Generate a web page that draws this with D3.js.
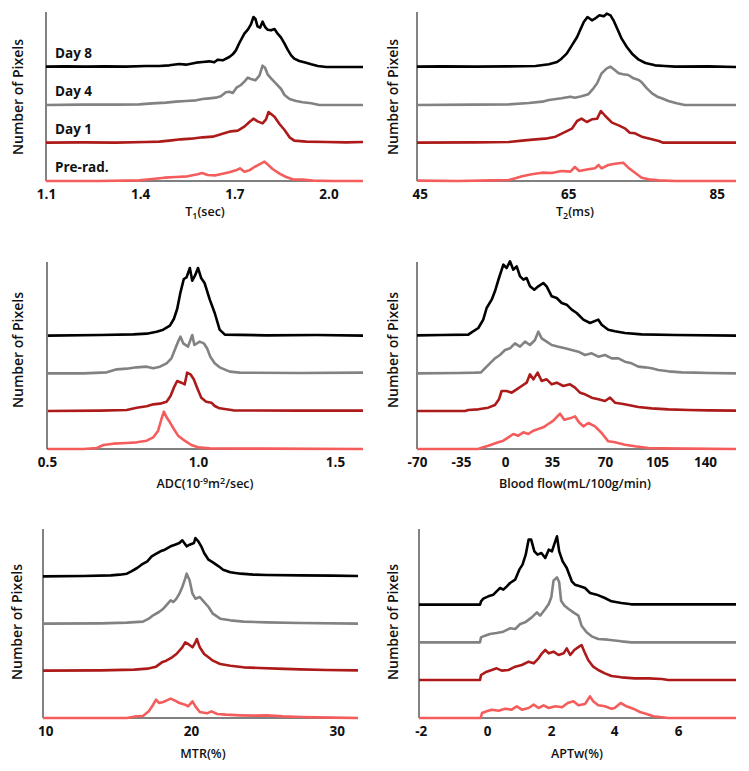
<!DOCTYPE html>
<html>
<head>
<meta charset="utf-8">
<script src="https://cdn.jsdelivr.net/npm/d3@7"></script>
<style>
  body { margin: 0; background: #fff; }
  text { font-family: "Open Sans", sans-serif; fill: #111; }
</style>
</head>
<body>
<svg id="chart" width="749" height="771"></svg>
<script>
// series (top to bottom in every panel)
var seriesNames = ["Day 8", "Day 4", "Day 1", "Pre-rad."];
var seriesColors = ["#000000", "#828282", "#ad1a1a", "#f55c5c"];

// ---- T1 (sec): [value, count]
var t1Day8 = [[1.100,1],[1.163,2],[1.227,1],[1.290,2],[1.354,1],[1.418,3],[1.461,3],[1.493,5],[1.524,9],[1.546,7],[1.578,13],[1.599,15],[1.620,17],[1.636,14],[1.647,22],[1.663,20],[1.684,30],[1.695,38],[1.705,50],[1.716,72],[1.732,100],[1.743,112],[1.753,128],[1.761,150],[1.767,145],[1.774,122],[1.782,118],[1.790,136],[1.798,120],[1.806,112],[1.817,110],[1.828,114],[1.838,100],[1.849,88],[1.860,70],[1.870,52],[1.881,35],[1.891,25],[1.907,18],[1.923,14],[1.945,8],[1.966,3],[1.993,0],[2.110,0]];
var t1Day4 = [[1.100,0],[1.216,1],[1.322,1],[1.397,2],[1.439,5],[1.482,7],[1.514,10],[1.546,12],[1.578,14],[1.599,18],[1.620,20],[1.641,22],[1.657,26],[1.673,38],[1.684,40],[1.695,36],[1.707,52],[1.721,60],[1.732,70],[1.743,82],[1.753,78],[1.767,74],[1.780,88],[1.790,118],[1.798,112],[1.806,92],[1.817,80],[1.833,64],[1.849,48],[1.860,30],[1.876,18],[1.897,12],[1.918,8],[1.945,5],[1.971,0],[2.110,0]];
var t1Day1 = [[1.100,0],[1.216,1],[1.322,0],[1.418,2],[1.461,3],[1.493,6],[1.530,10],[1.562,12],[1.599,16],[1.631,18],[1.652,24],[1.673,30],[1.689,34],[1.711,36],[1.732,48],[1.748,62],[1.761,72],[1.774,64],[1.790,58],[1.801,70],[1.809,92],[1.817,86],[1.828,78],[1.844,56],[1.860,38],[1.876,16],[1.891,6],[1.929,3],[1.993,2],[2.056,1],[2.110,2]];
var t1Pre = [[1.100,0],[1.269,0],[1.397,2],[1.439,6],[1.477,10],[1.514,12],[1.551,14],[1.583,20],[1.597,24],[1.615,18],[1.641,17],[1.663,22],[1.684,26],[1.705,32],[1.718,38],[1.732,28],[1.748,32],[1.764,42],[1.780,50],[1.796,58],[1.806,50],[1.822,36],[1.844,22],[1.865,12],[1.886,5],[1.918,4],[1.950,1],[2.014,0],[2.110,0]];

// ---- T2 (ms)
var t2Day8 = [[44.64,1],[48.0,2],[52.5,1],[57.0,2],[60.6,3],[62.4,8],[63.5,15],[64.1,25],[64.8,40],[65.5,65],[66.2,90],[66.6,110],[67.1,135],[67.6,150],[68.2,140],[68.6,145],[69.2,155],[69.8,152],[70.2,160],[70.7,155],[71.1,140],[71.7,110],[72.2,85],[72.9,60],[73.6,40],[74.5,22],[75.4,12],[76.7,5],[78.0,3],[79.4,1],[83.9,2],[87.6,0]];
var t2Day4 = [[44.64,0],[52.5,1],[57.0,2],[59.7,6],[61.5,10],[62.4,15],[64.1,20],[65.3,25],[65.9,22],[66.8,26],[67.7,32],[68.4,50],[68.9,65],[69.5,95],[70.2,110],[70.7,115],[71.1,108],[71.8,95],[72.4,92],[73.1,90],[73.8,80],[74.5,75],[74.9,68],[75.6,50],[76.3,35],[77.0,25],[77.6,20],[78.5,12],[79.6,5],[80.7,0],[87.6,0]];
var t2Day1 = [[44.64,0],[52.5,1],[57.0,2],[58.8,6],[60.6,10],[61.9,12],[63.3,18],[64.4,30],[65.5,42],[66.2,65],[66.8,72],[67.5,62],[68.2,70],[68.9,72],[69.4,95],[70.0,80],[70.9,60],[71.8,52],[72.7,42],[73.3,30],[74.0,28],[74.9,18],[76.0,12],[77.2,5],[77.8,0],[87.6,0]];
var t2Pre = [[44.64,1],[50.2,0],[54.7,2],[57.0,3],[57.9,8],[58.8,14],[60.1,20],[61.5,25],[62.8,24],[64.1,30],[65.3,28],[65.9,42],[66.5,30],[67.7,35],[68.6,38],[69.1,48],[69.5,38],[70.4,48],[71.3,52],[72.4,55],[73.1,40],[74.0,25],[74.9,10],[75.8,5],[77.2,2],[79.4,0],[87.6,0]];

// ---- ADC (10^-9 m2/sec)
var adcDay8 = [[0.503,0],[0.676,2],[0.786,4],[0.830,6],[0.863,12],[0.885,18],[0.907,30],[0.920,50],[0.931,80],[0.942,130],[0.953,170],[0.962,175],[0.973,203],[0.981,165],[0.990,180],[1.000,203],[1.012,172],[1.024,158],[1.043,108],[1.061,68],[1.079,18],[1.098,3],[1.250,1],[1.433,2],[1.601,0]];
var adcDay4 = [[0.503,0],[0.621,0],[0.698,3],[0.731,12],[0.764,14],[0.797,18],[0.830,20],[0.852,15],[0.874,20],[0.896,30],[0.912,45],[0.923,70],[0.934,95],[0.942,110],[0.951,90],[0.967,80],[0.981,115],[0.988,85],[1.006,95],[1.021,90],[1.033,75],[1.045,50],[1.061,30],[1.079,18],[1.116,5],[1.152,2],[1.372,1],[1.601,2]];
var adcDay1 = [[0.503,0],[0.676,1],[0.764,3],[0.797,10],[0.830,14],[0.852,20],[0.874,22],[0.896,28],[0.909,45],[0.920,70],[0.931,90],[0.945,85],[0.956,80],[0.964,115],[0.975,110],[0.986,95],[0.997,70],[1.012,40],[1.030,28],[1.049,25],[1.061,15],[1.079,8],[1.128,2],[1.372,1],[1.601,1]];
var adcPre = [[0.503,0],[0.621,0],[0.665,3],[0.687,12],[0.720,16],[0.764,18],[0.797,20],[0.830,25],[0.852,35],[0.868,55],[0.879,90],[0.887,112],[0.896,95],[0.907,80],[0.920,60],[0.934,40],[0.956,25],[0.978,12],[1.000,5],[1.043,2],[1.250,1],[1.601,0]];

// ---- Blood flow (mL/100g/min)
var bfDay8 = [[-70,1],[-50.4,2],[-29.2,3],[-26.6,10],[-21.2,23],[-17.3,48],[-14.6,83],[-10.6,108],[-8.0,133],[-4.8,173],[-1.3,213],[1.2,203],[3.7,223],[6.2,198],[8.7,208],[11.2,178],[13.7,168],[16.1,173],[18.6,148],[21.8,138],[24.8,148],[28.5,158],[31.0,148],[34.8,118],[38.1,113],[41.4,98],[44.7,93],[48.0,78],[51.3,68],[55.7,48],[60.1,38],[65.6,48],[67.8,33],[72.2,18],[76.7,13],[83.4,8],[94.6,4],[118.1,2],[162.6,0]];
var bfDay4 = [[-70,0],[-37.1,1],[-23.9,2],[-19.1,3],[-16.0,15],[-12.0,30],[-8.0,45],[-4.0,55],[0,70],[3.7,75],[7.4,90],[11.2,80],[14.9,95],[18.6,85],[22.3,100],[24.8,125],[27.3,105],[31.0,95],[34.8,85],[39.2,80],[43.6,75],[48.0,70],[52.4,65],[56.8,55],[61.2,60],[65.6,50],[70.0,55],[74.5,45],[79.0,45],[83.4,35],[87.9,30],[92.4,20],[96.9,18],[101.4,15],[106.0,10],[113.3,6],[123.0,3],[132.7,2],[142.4,1],[162.6,0]];
var bfDay1 = [[-70,0],[-31.8,0],[-29.2,3],[-21.2,5],[-13.3,10],[-8.0,18],[-4.8,35],[-2.7,60],[1.2,60],[5.0,55],[8.7,65],[12.4,75],[16.1,85],[18.6,110],[21.1,95],[24.3,115],[27.3,90],[31.0,95],[34.8,80],[38.1,85],[42.5,75],[46.9,80],[50.2,70],[53.5,55],[56.8,50],[61.2,40],[65.6,35],[70.0,30],[73.4,40],[76.7,25],[81.2,22],[85.7,18],[92.4,12],[101.4,8],[113.3,5],[127.9,3],[142.4,2],[162.6,1]];
var bfPre = [[-70,0],[-21.2,0],[-18.6,4],[-13.3,10],[-9.3,15],[-5.3,20],[-1.3,25],[2.5,35],[6.2,45],[9.9,40],[13.7,50],[17.4,45],[21.1,55],[24.8,60],[28.5,65],[32.2,75],[35.9,85],[40.3,106],[43.1,88],[46.9,92],[50.2,98],[52.8,80],[55.7,68],[59.0,78],[63.4,68],[67.8,48],[72.2,23],[76.7,20],[83.4,13],[90.2,8],[99.1,3],[108.4,2],[162.6,0]];

// ---- MTR (%)
var mtrDay8 = [[9.84,0],[12.6,1],[14.5,3],[15.1,5],[15.6,8],[15.9,15],[16.3,25],[16.6,35],[17.0,45],[17.3,60],[17.5,65],[17.9,75],[18.2,80],[18.6,90],[18.9,95],[19.2,100],[19.4,108],[19.7,90],[19.9,95],[20.2,100],[20.3,115],[20.5,105],[20.7,90],[20.9,70],[21.2,50],[21.5,42],[21.9,30],[22.2,20],[22.7,12],[23.4,8],[24.3,5],[25.2,4],[27.5,3],[29.7,2],[31.46,1]];
var mtrDay4 = [[9.84,0],[13.8,1],[15.6,3],[16.7,6],[17.1,15],[17.4,25],[17.8,35],[18.1,45],[18.3,55],[18.6,70],[18.8,65],[19.0,75],[19.2,90],[19.4,110],[19.6,135],[19.7,150],[19.9,130],[20.1,90],[20.3,75],[20.6,80],[20.8,70],[21.2,50],[21.5,30],[22.0,15],[22.7,10],[23.6,6],[25.2,4],[27.5,2],[31.46,0]];
var mtrDay1 = [[9.84,0],[13.8,1],[16.1,3],[17.0,6],[17.6,12],[18.0,25],[18.3,30],[18.7,40],[19.0,50],[19.4,70],[19.6,85],[19.8,80],[20.1,70],[20.3,85],[20.4,95],[20.6,70],[20.9,50],[21.2,40],[21.5,30],[22.0,20],[22.7,15],[23.6,10],[24.7,8],[25.9,6],[27.5,4],[29.3,2],[31.46,1]];
var mtrPre = [[9.84,0],[15.6,0],[16.1,4],[16.7,6],[17.1,20],[17.4,40],[17.6,55],[17.8,45],[18.1,48],[18.3,52],[18.6,58],[18.9,52],[19.2,45],[19.6,40],[19.8,35],[20.1,50],[20.3,35],[20.6,18],[21.1,14],[21.4,20],[21.8,12],[22.4,10],[23.4,8],[24.3,7],[25.2,8],[26.3,5],[27.5,3],[29.7,1],[31.46,0]];

// ---- APTw (%)
var aptDay8 = [[-2.05,0],[-0.21,0],[-0.18,10],[-0.11,18],[0.04,25],[0.20,30],[0.30,40],[0.41,50],[0.51,45],[0.62,55],[0.72,65],[0.88,75],[1.01,105],[1.11,120],[1.21,150],[1.30,195],[1.38,195],[1.48,160],[1.58,150],[1.70,155],[1.82,140],[1.93,165],[2.03,160],[2.10,180],[2.19,205],[2.26,160],[2.37,130],[2.50,110],[2.66,70],[2.76,60],[2.92,55],[3.08,50],[3.24,35],[3.45,30],[3.71,20],[3.92,10],[4.23,5],[4.54,1],[5.38,1],[7.79,1]];
var aptDay4 = [[-2.05,0],[-0.21,0],[-0.18,15],[-0.06,20],[0.09,25],[0.30,28],[0.51,32],[0.72,42],[0.88,40],[1.04,55],[1.19,60],[1.40,75],[1.56,90],[1.66,80],[1.82,100],[1.93,115],[2.01,135],[2.08,185],[2.19,195],[2.26,180],[2.32,125],[2.43,110],[2.56,100],[2.71,90],[2.87,80],[2.97,50],[3.13,30],[3.29,18],[3.50,10],[3.81,8],[4.23,3],[4.54,0],[7.79,0]];
var aptDay1 = [[-2.05,0],[-0.21,0],[-0.18,15],[-0.01,25],[0.15,30],[0.30,35],[0.46,28],[0.67,30],[0.88,40],[1.09,45],[1.30,55],[1.46,50],[1.61,65],[1.72,80],[1.82,90],[1.93,80],[2.08,85],[2.24,75],[2.40,80],[2.50,95],[2.61,75],[2.74,90],[2.89,100],[2.97,105],[3.06,85],[3.18,60],[3.34,40],[3.50,30],[3.71,20],[3.92,12],[4.23,8],[4.65,5],[5.07,5],[5.49,3],[5.70,0],[7.79,0]];
var aptPre = [[-2.05,0],[-0.19,0],[-0.15,15],[-0.01,20],[0.15,25],[0.36,22],[0.57,28],[0.77,25],[0.93,35],[1.09,25],[1.30,30],[1.46,40],[1.61,30],[1.77,38],[1.93,30],[2.14,35],[2.35,32],[2.53,45],[2.71,50],[2.87,38],[3.08,42],[3.24,65],[3.34,50],[3.50,38],[3.71,35],[3.92,28],[4.02,30],[4.21,45],[4.39,35],[4.60,28],[4.81,18],[5.02,12],[5.23,5],[5.49,2],[5.70,0],[7.79,0]];

// tick labels per panel
var t1Ticks = [1.1, 1.4, 1.7, 2.0];
var t2Ticks = [45, 65, 85];
var adcTicks = [0.5, 1.0, 1.5];
var bfTicks = [-70, -35, 0, 35, 70, 105, 140];
var mtrTicks = [10, 20, 30];
var aptTicks = [-2, 0, 2, 4, 6];

// vertical stacking offsets (Day 8, Day 4, Day 1, Pre-rad.)
var offsetsA = [342, 228, 115, 0];
var offsetsB = [340, 227, 114, 0];
var offsetsC = [425, 283, 142, 0];

// plain hyphen for negatives, like the source figure
var fmt1 = function (d) { return d.toFixed(1); };
var fmt0 = function (d) { return String(d); };

var svg = d3.select("#chart");

var panels = [
  { series: [t1Day8, t1Day4, t1Day1, t1Pre], offsets: offsetsA, ticks: t1Ticks, fmt: fmt1,
    xd: [1.1, 2.11], xr: [46, 363], top: 12, bottom: 181, yMax: 507, pad: 8,
    title: [["T", 0], ["1", -1], ["(sec)", 0]], titleY: 216, tx: 205, yTitle: [17, 97], labels: true },
  { series: [t2Day8, t2Day4, t2Day1, t2Pre], offsets: offsetsA, ticks: t2Ticks, fmt: fmt0,
    xd: [44.64, 87.6], xr: [417, 736], top: 12, bottom: 181, yMax: 507, pad: 8,
    title: [["T", 0], ["2", -1], ["(ms)", 0]], titleY: 216, tx: 575, yTitle: [392, 97] },
  { series: [adcDay8, adcDay4, adcDay1, adcPre], offsets: offsetsB, ticks: adcTicks, fmt: fmt1,
    xd: [0.5, 1.0, 1.5, 1.601], xr: [47, 198, 335, 363], top: 262, bottom: 449, yMax: 561, pad: 8,
    title: [["ADC(10", 0], ["-9", 1], ["m", 0], ["2", 1], ["/sec)", 0]], titleY: 488, tx: 205, yTitle: [17, 350] },
  { series: [bfDay8, bfDay4, bfDay1, bfPre], offsets: offsetsB, ticks: bfTicks, fmt: fmt0,
    xd: [-70, -35, 0, 35, 70, 105, 140, 162.6], xr: [417, 461, 505, 552, 605, 657, 705, 736], top: 262, bottom: 449, yMax: 561, pad: 8,
    title: [["Blood flow(mL/100g/min)", 0]], titleY: 488, tx: 575, yTitle: [392, 350] },
  { series: [mtrDay8, mtrDay4, mtrDay1, mtrPre], offsets: offsetsC, ticks: mtrTicks, fmt: fmt0,
    xd: [9.84, 31.46], xr: [43, 358], top: 529, bottom: 718, yMax: 567, pad: 8,
    title: [["MTR(%)", 0]], titleY: 758, tx: 203, yTitle: [16, 622] },
  { series: [aptDay8, aptDay4, aptDay1, aptPre], offsets: offsetsB, ticks: aptTicks, fmt: fmt0,
    xd: [-2.05, 0, 2, 4, 6, 7.79], xr: [419, 487, 551, 614, 678, 736], top: 529, bottom: 718, yMax: 567, pad: 8,
    title: [["APTw(%)", 0]], titleY: 758, tx: 577, yTitle: [392, 622] }
];

panels.forEach(drawPanel);

function drawPanel(p) {
  var g = svg.append("g");
  var x = d3.scaleLinear().domain(p.xd).range(p.xr);
  var y = d3.scaleLinear().domain([0, p.yMax]).range([p.bottom, p.top]);

  // x axis: labels only, then a plain line for the domain
  var xAxis = d3.axisBottom(x)
      .tickValues(p.ticks)
      .tickFormat(p.fmt)
      .tickSize(0)
      .tickPadding(p.pad);
  var gx = g.append("g")
      .attr("transform", "translate(0," + p.bottom + ")")
      .call(xAxis);
  gx.select(".domain").remove();
  gx.selectAll("text")
      .style("font-family", "'Open Sans', sans-serif")
      .style("font-size", "13.5px")
      .style("font-weight", "700")
      .attr("fill", "#111");

  g.append("line")
      .attr("x1", p.xr[0]).attr("x2", p.xr[p.xr.length - 1])
      .attr("y1", p.bottom).attr("y2", p.bottom)
      .attr("stroke", "#000").attr("stroke-width", 1);
  g.append("line")
      .attr("x1", p.xr[0]).attr("x2", p.xr[0])
      .attr("y1", p.top).attr("y2", p.bottom)
      .attr("stroke", "#595959").attr("stroke-width", 1.5);

  // traces, bottom one drawn last so it sits over the axis
  var line = d3.line();
  for (var i = p.series.length - 1; i >= 0; i--) {
    var off = p.offsets[i];
    line.x(function (d) { return x(d[0]); })
        .y(function (d) { return y(d[1] + off); });
    g.append("path")
        .datum(p.series[i])
        .attr("d", line)
        .attr("fill", "none")
        .attr("stroke", seriesColors[i])
        .attr("stroke-width", 2.6)
        .attr("stroke-linejoin", "round");
  }

  if (p.labels) {
    seriesNames.forEach(function (name, i) {
      g.append("text")
          .attr("x", 55)
          .attr("y", y(p.offsets[i]) - 14)
          .attr("dominant-baseline", "central")
          .style("font-size", "13.5px")
          .style("font-weight", "700")
          .text(name);
    });
  }

  // x title with sub/superscripts (shifted with dy so the box stays tight)
  var t = g.append("text")
      .attr("x", p.tx)
      .attr("y", p.titleY)
      .attr("text-anchor", "middle")
      .style("font-size", "12.5px")
      .style("font-weight", "600");
  var shift = 0;
  p.title.forEach(function (part) {
    var target = part[1] > 0 ? -4 : (part[1] < 0 ? 3 : 0);
    var ts = t.append("tspan").attr("dy", target - shift).text(part[0]);
    if (part[1] !== 0) ts.style("font-size", "9px");
    shift = target;
  });

  g.append("text")
      .attr("transform", "translate(" + p.yTitle[0] + "," + p.yTitle[1] + ")rotate(-90)")
      .attr("text-anchor", "middle")
      .attr("dominant-baseline", "central")
      .style("font-size", "14px")
      .style("font-weight", "600")
      .text("Number of Pixels");
}
</script>
</body>
</html>
